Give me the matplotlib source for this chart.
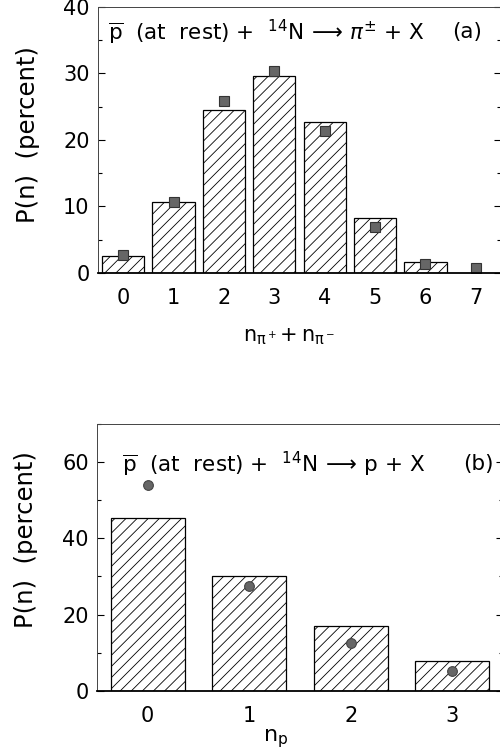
import numpy as np
import matplotlib
matplotlib.use('Agg')
import matplotlib.pyplot as plt
from matplotlib.ticker import MultipleLocator

plt.rcParams['font.family'] = ['DejaVu Sans']
plt.rcParams['mathtext.fontset'] = 'dejavusans'
plt.rcParams['hatch.linewidth'] = 0.6

# (a) charged pion multiplicity
n_pi = [0, 1, 2, 3, 4, 5, 6]
p_pi_calc = [2.5, 10.6, 24.5, 29.6, 22.7, 8.2, 1.7]
n_pi_exp = [0, 1, 2, 3, 4, 5, 6, 7]
p_pi_exp = [2.7, 10.6, 25.8, 30.3, 21.3, 6.9, 1.4, 0.7]

# (b) proton multiplicity
n_p = [0, 1, 2, 3]
p_p_calc = [45.4, 30.2, 17.1, 7.9]
p_p_exp = [54.1, 27.6, 12.5, 5.3]

fig = plt.figure(figsize=(5, 7.52), dpi=100)
ax1 = fig.add_axes([0.196, 0.637, 0.806, 0.354])
ax2 = fig.add_axes([0.194, 0.0815, 0.812, 0.3547])

def style(ax, ymax, major, minor):
    ax.set_ylim(0, ymax)
    ax.yaxis.set_major_locator(MultipleLocator(major))
    ax.yaxis.set_minor_locator(MultipleLocator(minor))
    ax.tick_params(axis='y', which='both', direction='in', right=True, labelsize=15, pad=6)
    ax.tick_params(axis='y', which='major', length=5, width=0.8)
    ax.tick_params(axis='y', which='minor', length=3, width=0.8)
    ax.tick_params(axis='x', length=0, labelsize=15)
    for s in ax.spines.values():
        s.set_linewidth(0.7)
        s.set_color('#444444')
    ax.spines['bottom'].set_linewidth(1.3)
    ax.spines['bottom'].set_color('black')

ax1.bar(n_pi, p_pi_calc, width=0.84, facecolor='white', edgecolor='black',
        linewidth=0.9, hatch='///')
ax1.plot(n_pi_exp, p_pi_exp, 's', ms=6.5, mfc='#666666', mec='#333333', mew=0.8)
ax1.set_xlim(-0.5, 7.5)
ax1.set_xticks(range(8))
style(ax1, 40, 10, 5)
ax1.tick_params(axis='x', pad=11)
ax1.set_ylabel('P(n)  (percent)', fontsize=17.5)
ax1.yaxis.set_label_coords(-0.145, 0.52)
ax1.set_xlabel(r'$\mathregular{n_{\pi^+}\!+n_{\pi^-}}$', fontsize=15)
ax1.xaxis.set_label_coords(0.475, -0.2)
ax1.text(0.025, 0.905,
         r'$\overline{\mathregular{p}}$  (at  rest) +  $^{14}$N$\,\longrightarrow\,\pi^{\pm}$ + X',
         transform=ax1.transAxes, fontsize=15.5, va='center', ha='left')
ax1.text(0.915, 0.905, '(a)', transform=ax1.transAxes, fontsize=15.5, va='center', ha='center')

ax2.bar(n_p, p_p_calc, width=0.73, facecolor='white', edgecolor='black',
        linewidth=0.9, hatch='///')
ax2.plot(n_p, p_p_exp, 'o', ms=7, mfc='#666666', mec='#444444', mew=0.8)
ax2.set_xlim(-0.5, 3.5)
ax2.set_xticks(range(4))
style(ax2, 70, 20, 10)
ax2.tick_params(axis='x', pad=11)
ax2.set_ylabel('P(n)  (percent)', fontsize=17.5)
ax2.yaxis.set_label_coords(-0.145, 0.565)
ax2.set_xlabel(r'$\mathregular{n_p}$', fontsize=16)
ax2.xaxis.set_label_coords(0.44, -0.135)
ax2.text(0.062, 0.85,
         r'$\overline{\mathregular{p}}$  (at  rest) +  $^{14}$N$\,\longrightarrow\,$p + X',
         transform=ax2.transAxes, fontsize=15.5, va='center', ha='left')
ax2.text(0.94, 0.85, '(b)', transform=ax2.transAxes, fontsize=15.5, va='center', ha='center')

fig.savefig('out.png', dpi=100)
